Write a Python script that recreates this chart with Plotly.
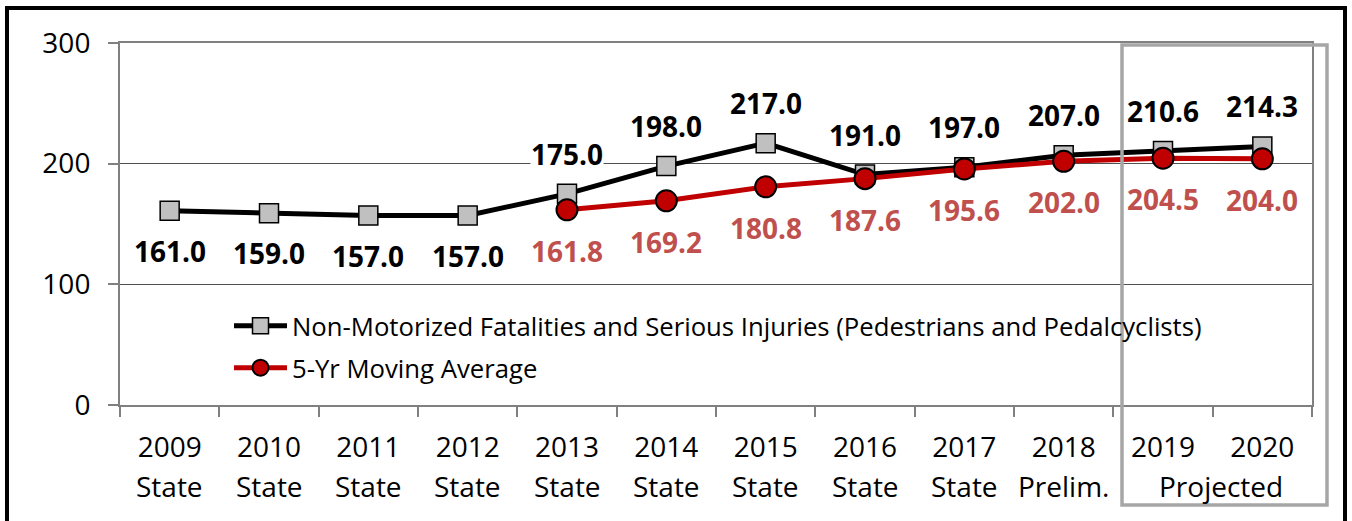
import plotly.graph_objects as go

years = ["2009", "2010", "2011", "2012", "2013", "2014", "2015", "2016",
         "2017", "2018", "2019", "2020"]
status = ["State", "State", "State", "State", "State", "State", "State",
          "State", "State", "Prelim.", "", ""]
projected_label = "Projected"
nonmotorized = [161.0, 159.0, 157.0, 157.0, 175.0, 198.0, 217.0, 191.0,
                197.0, 207.0, 210.6, 214.3]
moving_avg = [None, None, None, None, 161.8, 169.2, 180.8, 187.6,
              195.6, 202.0, 204.5, 204.0]
series_names = ["Non-Motorized Fatalities and Serious Injuries (Pedestrians and Pedalcyclists)",
                "5-Yr Moving Average"]

W, H = 1352, 521
L, R, T, B = 120, 1312, 43, 405
FONT = "Open Sans"


def px_x(p):
    return (p - L) / (R - L)


def px_y(p):
    return (B - p) / (B - T)


fig = go.Figure()
fig.add_trace(go.Scatter(
    x=years, y=nonmotorized, name=series_names[0], mode="lines+markers",
    line=dict(color="black", width=5),
    marker=dict(symbol="square", size=19, color="#C0C0C0",
                line=dict(color="black", width=1.5)),
    legend="legend",
))
fig.add_trace(go.Scatter(
    x=years, y=moving_avg, name=series_names[1], mode="lines+markers",
    line=dict(color="#C00000", width=5),
    marker=dict(symbol="circle", size=21, color="#C00000",
                line=dict(color="black", width=2)),
    legend="legend2",
))

annotations = []
for i, v in enumerate(nonmotorized):
    shift = -40 if i < 4 else 40
    annotations.append(dict(
        x=i, y=v, text=f"<b>{v:.1f}</b>", showarrow=False, yshift=shift,
        font=dict(family=FONT, size=28, color="black"), bgcolor="white",
        borderpad=0))
for i, v in enumerate(moving_avg):
    if v is None:
        continue
    annotations.append(dict(
        x=i, y=v, text=f"<b>{v:.1f}</b>", showarrow=False, yshift=-41,
        font=dict(family=FONT, size=28, color="#C0504D")))
for i, s in enumerate(status):
    if s:
        annotations.append(dict(
            x=i, y=px_y(486), yref="paper", text=s, showarrow=False,
            xanchor="center", yanchor="middle",
            font=dict(family=FONT, size=28, color="black")))
annotations.append(dict(
    x=px_x(1221), xref="paper", y=px_y(486), yref="paper", text=projected_label,
    showarrow=False, xanchor="center", yanchor="middle",
    font=dict(family=FONT, size=28, color="black")))

shapes = [
    dict(type="rect", xref="paper", yref="paper",
         x0=px_x(1122), x1=px_x(1327), y0=px_y(505), y1=px_y(45),
         line=dict(color="#A6A6A6", width=3.5)),
    dict(type="rect", xref="paper", yref="paper",
         x0=px_x(7), x1=px_x(1345), y0=px_y(530), y1=px_y(8),
         line=dict(color="black", width=4)),
]

legend_common = dict(xanchor="left", yanchor="middle", bgcolor="rgba(0,0,0,0)",
                     font=dict(family=FONT, size=25.7), itemwidth=53)

fig.update_layout(
    width=W, height=H,
    margin=dict(l=L, r=W - R, t=T, b=H - B, autoexpand=False),
    paper_bgcolor="white", plot_bgcolor="white",
    font=dict(family=FONT, size=28, color="black"),
    showlegend=True,
    legend=dict(x=px_x(229), y=px_y(326), **legend_common),
    legend2=dict(x=px_x(229), y=px_y(368), **legend_common),
    annotations=annotations, shapes=shapes,
    xaxis=dict(type="category", range=[-0.5, 11.5], tickson="boundaries",
               ticks="outside", ticklen=10, tickcolor="#808080", tickwidth=1.5,
               showline=True, linecolor="#808080", linewidth=2, mirror=True,
               showgrid=False, tickfont=dict(family=FONT, size=28),
               tickangle=0, automargin=False, ticklabelstandoff=16),
    yaxis=dict(range=[0, 300], tickvals=[0, 100, 200, 300], ticks="outside",
               ticklen=10, tickcolor="#808080", tickwidth=1.5,
               showline=True, linecolor="#808080", linewidth=2, mirror=True,
               showgrid=True, gridcolor="#505050", gridwidth=1,
               zeroline=False, tickfont=dict(family=FONT, size=28),
               automargin=False, ticklabelstandoff=12),
)

fig.write_html("out.html", config={"displayModeBar": False},
               post_script="document.body.style.margin='0';document.body.style.overflow='hidden';")
